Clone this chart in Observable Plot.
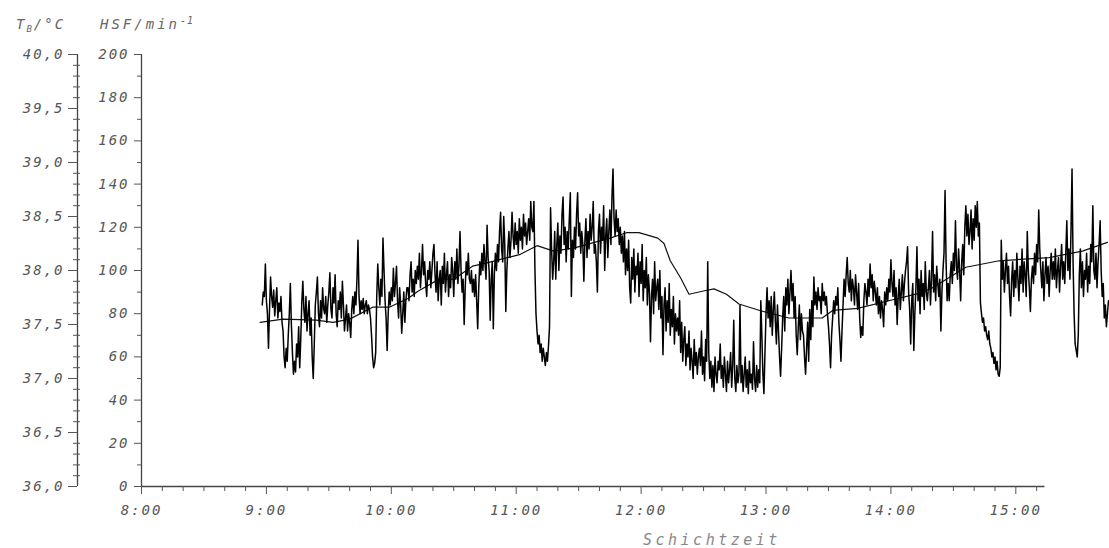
<!DOCTYPE html>
<html><head><meta charset="utf-8">
<script src="https://cdn.jsdelivr.net/npm/d3@7"></script>
<script src="https://cdn.jsdelivr.net/npm/@observablehq/plot@0.6"></script>
<style>
html,body{margin:0;padding:0;background:#fff;}
#chart{width:1109px;height:548px;overflow:hidden;}
</style></head><body><div id="chart"></div>
<script>
// Heart rate (HSF, 1/min), sampled every 30 s starting 8:58
const hsfStart = "8:58";
const hsfStepSeconds = 30;
const hsfValues = [
84,90,88,103,86,80,64,82,97,88,83,91,79,86,92,78,85,81,88,76,
72,60,55,64,58,70,80,94,75,62,52,58,53,66,60,74,55,68,85,95,
82,76,88,72,80,86,70,78,60,50,66,84,90,97,80,74,86,78,92,82,
80,88,76,84,90,99,82,78,92,85,98,80,74,86,82,90,78,95,84,72,
78,84,72,80,76,69,82,88,80,90,84,96,114,88,80,86,82,87,80,84,
86,80,84,82,78,70,60,55,57,62,88,103,92,84,96,88,115,100,86,78,
63,80,90,84,92,86,101,88,94,102,86,78,92,84,71,80,90,76,86,92,
92,86,98,104,90,96,88,100,94,102,96,108,92,100,112,98,104,94,88,100,
96,104,92,100,108,112,98,90,104,86,96,100,84,102,94,108,90,98,104,88,
98,92,106,100,88,104,96,110,94,102,118,100,90,96,75,92,104,98,108,96,
94,100,90,96,88,98,86,73,92,104,98,108,100,112,104,96,121,106,100,77,
96,104,73,98,108,100,112,104,118,127,110,104,125,112,81,100,110,118,106,114,
127,116,110,122,112,118,108,124,114,120,110,126,116,122,112,118,124,114,132,120,
118,132,100,80,72,66,70,62,66,58,64,60,56,62,58,65,74,129,110,96,
104,118,96,112,122,100,116,108,126,134,112,120,104,118,110,124,136,88,114,106,
120,110,126,136,116,122,108,118,112,95,114,124,106,118,110,126,114,120,132,108,
112,104,90,118,126,108,120,114,130,100,116,124,106,118,128,112,134,147,124,116,
128,118,124,112,120,108,116,104,118,98,110,100,114,92,85,106,96,110,90,102,
98,108,88,104,94,112,86,100,92,106,84,98,90,67,88,96,80,104,86,92,
96,82,100,78,88,61,84,92,72,86,76,94,70,82,74,88,66,80,72,78,
70,86,62,76,58,68,74,56,66,60,72,54,64,58,50,68,56,62,52,60,
64,56,72,52,60,49,68,58,104,62,50,58,46,56,44,60,52,48,58,54,
66,50,56,46,60,52,44,58,48,54,62,46,56,77,50,44,56,48,52,84,
48,56,44,52,60,46,54,43,58,48,52,45,67,50,44,56,46,54,48,86,
70,52,43,62,80,92,78,86,74,88,70,82,90,76,66,84,72,60,51,64,
78,88,72,92,84,96,80,90,100,86,94,78,88,70,61,74,84,68,80,72,
70,60,52,64,76,58,82,68,86,74,97,84,90,82,92,86,88,80,94,86,
90,84,88,80,74,66,55,70,78,86,80,88,84,92,76,68,58,72,84,96,
88,98,106,94,90,100,86,96,92,84,98,90,82,94,78,69,74,70,86,94,
90,84,96,88,103,92,98,86,95,90,84,92,80,88,78,86,82,74,90,84,
92,86,96,90,105,94,88,100,84,92,75,88,96,82,90,98,86,94,100,104,
111,90,82,66,86,94,63,80,92,111,86,96,80,100,88,94,82,104,90,86,
92,100,84,96,118,90,98,86,102,94,88,96,72,90,100,108,137,104,86,94,
86,98,104,94,108,100,123,102,96,110,100,86,104,112,98,120,130,116,126,112,
118,128,110,124,114,130,120,132,116,122,85,80,76,78,72,74,70,68,72,66,
64,60,62,57,60,54,58,52,51,55,114,96,104,90,100,108,94,102,88,79,
96,104,88,100,92,108,96,86,102,94,110,90,104,98,88,118,100,92,81,96,
102,94,108,98,112,104,128,110,100,92,104,86,98,106,94,102,88,100,108,96,
104,96,110,92,100,106,90,102,112,96,104,94,108,123,100,110,96,118,147,104,
80,66,63,60,70,98,110,92,104,88,100,96,108,90,102,94,112,104,130,100,
96,108,92,104,112,123,100,88,94,78,84,74,80,86
];

// Body temperature T_B (°C)
const tempTimes = ["8:57","9:08","9:24","9:32","9:40","9:51","9:59","10:08","10:13","10:23","10:30","10:39","10:46","11:02","11:10","11:18","11:28","11:45","11:53","11:59","12:08","12:11","12:14","12:19","12:23","12:30","12:35","12:41","12:47","12:57","13:11","13:27","13:32","13:44","13:59","14:14","14:20","14:36","14:52","15:16","15:32","15:44"];
const tempValues = [37.52,37.55,37.54,37.52,37.55,37.66,37.66,37.74,37.81,37.92,37.92,38.04,38.07,38.15,38.23,38.18,38.21,38.30,38.35,38.35,38.30,38.25,38.09,37.93,37.78,37.81,37.83,37.78,37.69,37.63,37.56,37.56,37.63,37.65,37.72,37.79,37.84,38.03,38.09,38.12,38.18,38.26];

// Axes
const hsfTicks = [0,20,40,60,80,100,120,140,160,180,200];
const hsfMinorTicks = [10,30,50,70,90,110,130,150,170,190];
const tempTicks = [36.0,36.5,37.0,37.5,38.0,38.5,39.0,39.5,40.0];
const hourTicks = ["8:00","9:00","10:00","11:00","12:00","13:00","14:00","15:00"];
const xDomain = ["8:00","15:45"];
const xAxisEnd = "15:14";
const tempMin = 36, tempPerHsf = 1/50;

const parse = s => { const [h, m] = s.split(":").map(Number); return new Date(Date.UTC(2000, 0, 1, h, m)); };
const t0 = parse(hsfStart);
const hsfData = hsfValues.map((v, i) => ({t: new Date(+t0 + i * hsfStepSeconds * 1000), v}));
const toY = T => (T - tempMin) / tempPerHsf;
const tempData = tempTimes.map((s, i) => ({t: parse(s), v: toY(tempValues[i])}));
const tempMinor = d3.range(1, 40).filter(i => i % 5 !== 0).map(i => tempMin + i / 10);
const xStart = parse(hourTicks[0]);
const minorX = d3.utcMinute.every(10).range(xStart, parse(xAxisEnd)).filter(d => d.getUTCMinutes() !== 0);
const fmtT = y => d3.format(".1f")(tempMin + y * tempPerHsf).replace(".", ",");
const axisCol = "#444";

const plot = Plot.plot({
  width: 1109, height: 548,
  marginLeft: 141, marginRight: 0, marginTop: 54, marginBottom: 62,
  style: {fontFamily: "'DejaVu Sans Mono', monospace", fontSize: "14px", fontStyle: "italic", color: "#555", background: "#fff", letterSpacing: "2px"},
  x: {type: "utc", domain: xDomain.map(parse), label: null},
  y: {domain: [0, 200], label: null},
  marks: [
    Plot.ruleX([xStart], {y1: 0, y2: 200, stroke: axisCol, strokeWidth: 1.3}),
    Plot.ruleX([xStart], {y1: 0, y2: 200, stroke: axisCol, strokeWidth: 1.3, dx: -64}),
    Plot.ruleY([0], {x1: xStart, x2: parse(xAxisEnd), stroke: axisCol, strokeWidth: 1.3}),
    Plot.axisY(hsfTicks, {anchor: "left", tickSize: 7, tickPadding: 5, label: null}),
    Plot.axisY(hsfMinorTicks, {anchor: "left", tickSize: 4, tickFormat: () => "", label: null}),
    Plot.axisY(tempTicks.map(toY), {anchor: "left", dx: -64, tickSize: 9, tickPadding: 4, tickFormat: fmtT, label: null}),
    Plot.axisY(tempMinor.map(toY), {anchor: "left", dx: -61, tickSize: 7, tickFormat: () => "", label: null}),
    Plot.axisX(hourTicks.map(parse), {anchor: "bottom", tickSize: 8, tickPadding: 11, tickFormat: d3.utcFormat("%-H:%M"), label: null}),
    Plot.axisX(minorX, {anchor: "bottom", tickSize: 5, tickFormat: () => "", label: null}),
    Plot.line(tempData, {x: "t", y: "v", stroke: "#111", strokeWidth: 1.2}),
    Plot.line(hsfData, {x: "t", y: "v", stroke: "#000", strokeWidth: 1.5})
  ]
});

const svg = d3.select(plot);
const head = svg.append("text").attr("x", 16).attr("y", 29).attr("fill", "#666")
  .attr("text-anchor", "start").style("font-size", "14px").style("letter-spacing", "2px");
head.append("tspan").text("T");
head.append("tspan").attr("dy", 3).style("font-size", "9px").text("B");
head.append("tspan").attr("dy", -3).text("/°C");
const head2 = svg.append("text").attr("x", 100).attr("y", 29).attr("fill", "#666").attr("text-anchor", "start")
  .style("font-size", "14px").style("letter-spacing", "3px");
head2.append("tspan").text("HSF/min");
head2.append("tspan").attr("dy", -5).style("font-size", "10px").style("letter-spacing", "1px").text("-1");
svg.append("text").attr("x", 643).attr("y", 545).attr("fill", "#888").attr("text-anchor", "start")
  .style("font-size", "15px").style("letter-spacing", "3.5px").text("Schichtzeit");

document.getElementById("chart").appendChild(plot);
</script>
</body></html>
